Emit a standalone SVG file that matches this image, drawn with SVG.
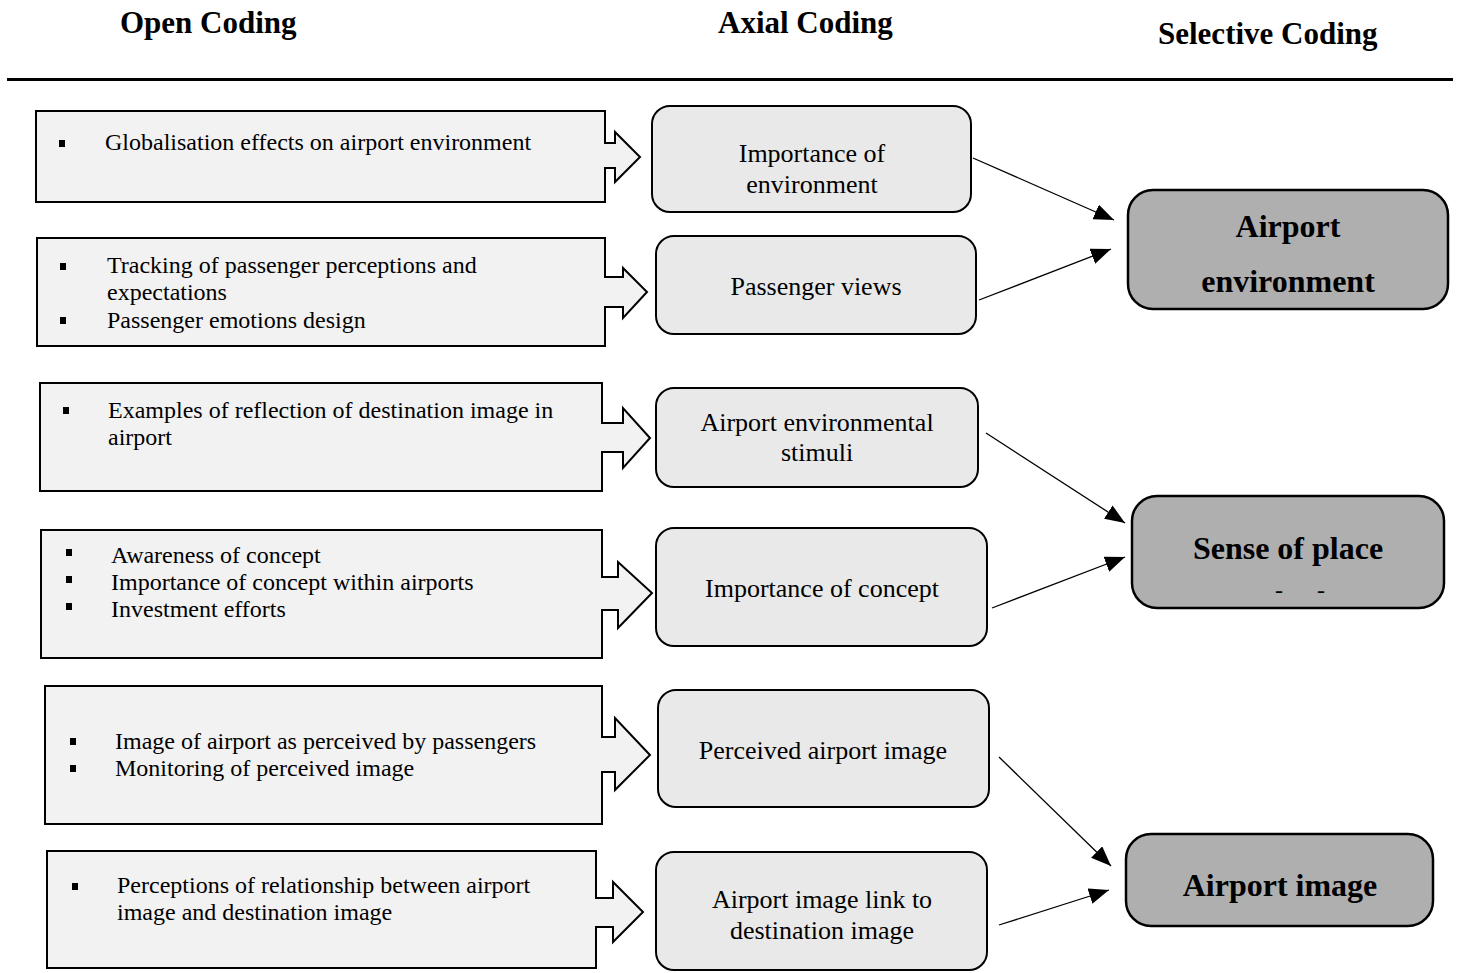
<svg xmlns="http://www.w3.org/2000/svg" width="1461" height="973" viewBox="0 0 1461 973">
<style>
.hdr{font-family:"Liberation Serif","Times New Roman",serif;font-weight:bold;font-size:31px;fill:#000}
.open{fill:#f2f2f2;stroke:#000;stroke-width:2}
.otx{font-family:"Liberation Serif","Times New Roman",serif;font-size:24px;fill:#000}
.blt{fill:#000}
.axial{fill:#e9e9e9;stroke:#000;stroke-width:2}
.atx{font-family:"Liberation Serif","Times New Roman",serif;font-size:26px;fill:#000;text-anchor:middle}
.sel{fill:#afafaf;stroke:#000;stroke-width:2.5}
.stx{font-family:"Liberation Serif","Times New Roman",serif;font-weight:bold;font-size:32px;fill:#000;text-anchor:middle}
.con{stroke:#000;stroke-width:1.3;fill:none;marker-end:url(#ah)}
</style>
<defs>
<marker id="ah" markerUnits="userSpaceOnUse" markerWidth="22" markerHeight="16" refX="20" refY="8" orient="auto">
<path d="M0,0 L20,8 L0,16 Z" fill="#000"/>
</marker>
</defs>
<rect width="1461" height="973" fill="#fff"/>
<g id="headers">
<text class="hdr" x="120" y="33">Open Coding</text>
<text class="hdr" x="718" y="33">Axial Coding</text>
<text class="hdr" x="1158" y="44">Selective Coding</text>
<line x1="7" y1="79.5" x2="1453" y2="79.5" stroke="#000" stroke-width="3"/>
</g>
<g id="open1">
<path class="open" d="M36 111 H605 V143 H615 V132 L640 157 L615 182 V168 H605 V202 H36 Z"/>
<rect class="blt" x="59" y="140" width="6" height="7"/>
<text class="otx" x="105" y="150">Globalisation effects on airport environment</text>
</g>
<g id="open2">
<path class="open" d="M37 238 H605 V277 H623 V268 L647 292 L623 318 V307 H605 V346 H37 Z"/>
<rect class="blt" x="60" y="263" width="6" height="7"/>
<rect class="blt" x="60" y="317" width="6" height="7"/>
<text class="otx" x="107" y="273">Tracking of passenger perceptions and</text>
<text class="otx" x="107" y="300">expectations</text>
<text class="otx" x="107" y="328">Passenger emotions design</text>
</g>
<g id="open3">
<path class="open" d="M40 383 H602 V423 H623 V408 L650 438 L623 468 V452 H602 V491 H40 Z"/>
<rect class="blt" x="63" y="407" width="6" height="7"/>
<text class="otx" x="108" y="418">Examples of reflection of destination image in</text>
<text class="otx" x="108" y="445">airport</text>
</g>
<g id="open4">
<path class="open" d="M41 530 H602 V577 H618 V562 L652 593 L618 628 V610 H602 V658 H41 Z"/>
<rect class="blt" x="66" y="549" width="6" height="7"/>
<rect class="blt" x="66" y="576" width="6" height="7"/>
<rect class="blt" x="66" y="603" width="6" height="7"/>
<text class="otx" x="111" y="563">Awareness of concept</text>
<text class="otx" x="111" y="590">Importance of concept within airports</text>
<text class="otx" x="111" y="617">Investment efforts</text>
</g>
<g id="open5">
<path class="open" d="M45 686 H602 V737 H615 V718 L650 755 L615 790 V772 H602 V824 H45 Z"/>
<rect class="blt" x="70" y="738" width="6" height="7"/>
<rect class="blt" x="70" y="765" width="6" height="7"/>
<text class="otx" x="115" y="749">Image of airport as perceived by passengers</text>
<text class="otx" x="115" y="776">Monitoring of perceived image</text>
</g>
<g id="open6">
<path class="open" d="M47 851 H596 V898 H613 V882 L643 912 L613 942 V927 H596 V968 H47 Z"/>
<rect class="blt" x="72" y="883" width="6" height="7"/>
<text class="otx" x="117" y="893">Perceptions of relationship between airport</text>
<text class="otx" x="117" y="920">image and destination image</text>
</g>
<g id="axial1">
<rect class="axial" x="652" y="106" width="319" height="106" rx="18"/>
<text class="atx" x="812" y="162">Importance of</text>
<text class="atx" x="812" y="193">environment</text>
</g>
<g id="axial2">
<rect class="axial" x="656" y="236" width="320" height="98" rx="18"/>
<text class="atx" x="816" y="295">Passenger views</text>
</g>
<g id="axial3">
<rect class="axial" x="656" y="388" width="322" height="99" rx="18"/>
<text class="atx" x="817" y="431">Airport environmental</text>
<text class="atx" x="817" y="461">stimuli</text>
</g>
<g id="axial4">
<rect class="axial" x="656" y="528" width="331" height="118" rx="18"/>
<text class="atx" x="822" y="597">Importance of concept</text>
</g>
<g id="axial5">
<rect class="axial" x="658" y="690" width="331" height="117" rx="18"/>
<text class="atx" x="823" y="759">Perceived airport image</text>
</g>
<g id="axial6">
<rect class="axial" x="656" y="852" width="331" height="118" rx="18"/>
<text class="atx" x="822" y="908">Airport image link to</text>
<text class="atx" x="822" y="939">destination image</text>
</g>
<g id="sel1">
<rect class="sel" x="1128" y="190" width="320" height="119" rx="25"/>
<text class="stx" x="1288" y="237">Airport</text>
<text class="stx" x="1288" y="292">environment</text>
</g>
<g id="sel2">
<rect class="sel" x="1132" y="496" width="312" height="112" rx="25"/>
<text class="stx" x="1288" y="559">Sense of place</text>
<text class="otx" x="1275" y="598" font-size="20">-</text>
<text class="otx" x="1317" y="598" font-size="20">-</text>
</g>
<g id="sel3">
<rect class="sel" x="1126" y="834" width="307" height="92" rx="25"/>
<text class="stx" x="1280" y="896">Airport image</text>
</g>
<g id="connectors">
<line class="con" x1="973" y1="158" x2="1114" y2="220"/>
<line class="con" x1="979" y1="300" x2="1111" y2="249"/>
<line class="con" x1="986" y1="433" x2="1125" y2="523"/>
<line class="con" x1="992" y1="608" x2="1125" y2="557"/>
<line class="con" x1="999" y1="757" x2="1111" y2="866"/>
<line class="con" x1="999" y1="925" x2="1109" y2="890"/>
</g>
</svg>
